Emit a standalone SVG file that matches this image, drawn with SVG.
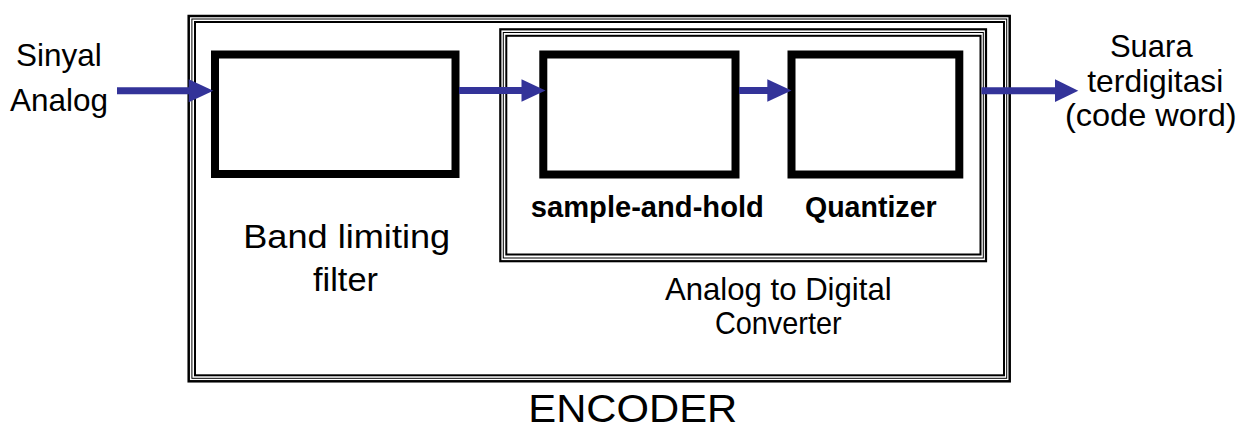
<svg xmlns="http://www.w3.org/2000/svg" width="1245" height="430" viewBox="0 0 1245 430">
<style>
  .frame { fill: none; stroke: #000; }
  .box { fill: #fff; stroke: #000; stroke-width: 8; }
  .t { font-family: "Liberation Sans", Arial, sans-serif; fill: #000; text-anchor: middle; }
  .r { font-size: 30.5px; }
  .b { font-size: 29px; font-weight: bold; }
  .shaft { stroke: #333399; stroke-width: 7; fill: none; }
  .head { fill: #333399; }
</style>
<rect width="1245" height="430" fill="#fff"/>

<g id="encoder">
  <rect class="frame" x="188.7" y="16" width="821" height="365.3" stroke-width="2.5"/>
  <rect class="frame" x="191.9" y="19" width="814.8" height="359.3" stroke-width="1"/>
  <rect class="frame" x="195" y="22" width="809" height="353.3" stroke-width="2"/>
  <text class="t" x="632.8" y="421.5" font-size="39" textLength="209" lengthAdjust="spacingAndGlyphs">ENCODER</text>
</g>

<g id="adc">
  <rect class="frame" x="500.3" y="29.3" width="485.7" height="231.9" stroke-width="2.2"/>
  <rect class="frame" x="503.3" y="32.5" width="480" height="225.5" stroke-width="1"/>
  <rect class="frame" x="506.3" y="35.8" width="474.2" height="218.7" stroke-width="2"/>
  <text class="t r" x="778.3" y="300" textLength="226.7" lengthAdjust="spacingAndGlyphs">Analog to Digital</text>
  <text class="t r" x="778.3" y="334" textLength="126.7" lengthAdjust="spacingAndGlyphs">Converter</text>
</g>

<g id="filter">
  <rect class="box" x="215" y="54.5" width="240.5" height="119.5"/>
  <text class="t" x="346.7" y="247.5" font-size="33" textLength="207" lengthAdjust="spacingAndGlyphs">Band limiting</text>
  <text class="t" x="345.5" y="290.5" font-size="33" textLength="65" lengthAdjust="spacingAndGlyphs">filter</text>
</g>

<g id="sample-hold">
  <rect class="box" x="543.3" y="54.5" width="192.2" height="120"/>
  <text class="t b" x="647.3" y="217.3" textLength="233" lengthAdjust="spacingAndGlyphs">sample-and-hold</text>
</g>

<g id="quantizer">
  <rect class="box" x="791.5" y="54.5" width="167.8" height="120"/>
  <text class="t b" x="870.8" y="216.7" textLength="131.7" lengthAdjust="spacingAndGlyphs">Quantizer</text>
</g>

<g id="input-label">
  <text class="t r" x="58.8" y="65.5" textLength="85.7" lengthAdjust="spacingAndGlyphs">Sinyal</text>
  <text class="t r" x="59" y="110.5" textLength="98" lengthAdjust="spacingAndGlyphs">Analog</text>
</g>

<g id="output-label">
  <text class="t r" x="1151.3" y="57" textLength="82.7" lengthAdjust="spacingAndGlyphs">Suara</text>
  <text class="t r" x="1155.3" y="92" textLength="136" lengthAdjust="spacingAndGlyphs">terdigitasi</text>
  <text class="t r" x="1150.8" y="125.5" textLength="171.7" lengthAdjust="spacingAndGlyphs">(code word)</text>
</g>

<g id="connectors">
  <line class="shaft" x1="117" y1="90.8" x2="191" y2="90.8"/>
  <polygon class="head" points="188.7,79.3 213.3,90.8 188.7,102.2"/>
  <line class="shaft" x1="459" y1="90.5" x2="524" y2="90.5"/>
  <polygon class="head" points="521.5,79.3 545.5,90.5 521.5,101.7"/>
  <line class="shaft" x1="739" y1="90.5" x2="769" y2="90.5"/>
  <polygon class="head" points="767.3,79.3 791.5,90.5 767.3,101.7"/>
  <line class="shaft" x1="981.5" y1="90.7" x2="1057" y2="90.7"/>
  <polygon class="head" points="1055,79.3 1078.3,90.7 1055,102"/>
</g>
</svg>
